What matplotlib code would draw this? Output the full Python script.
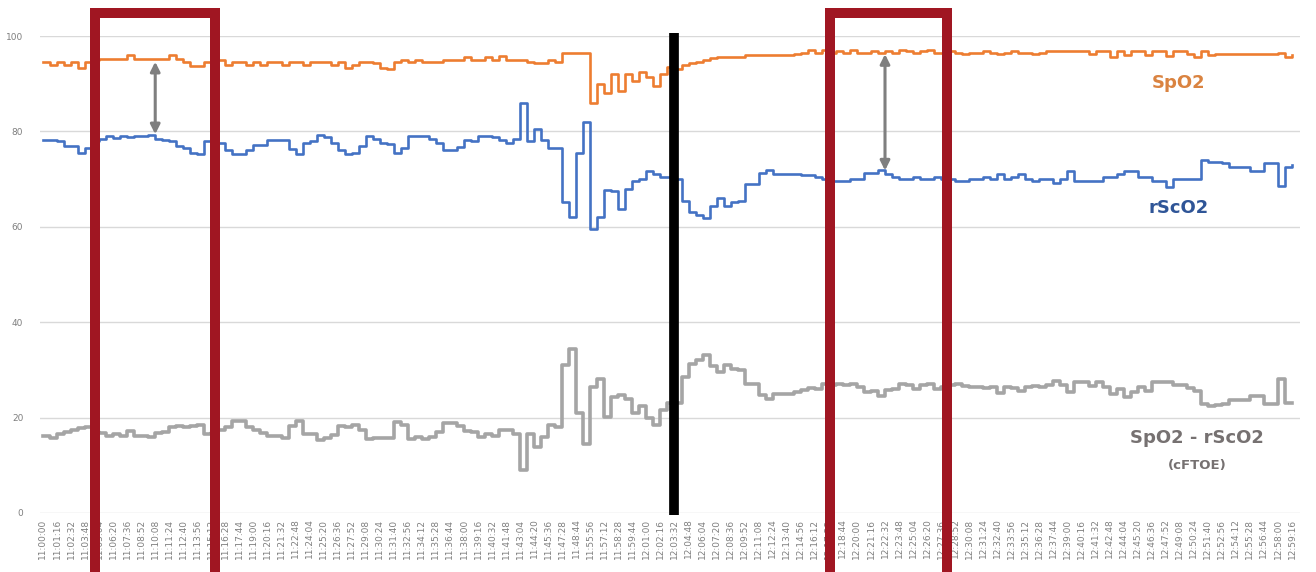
import matplotlib
matplotlib.use("Agg")
import matplotlib.pyplot as plt
import numpy as np
from matplotlib.patches import Rectangle

# time labels on the category axis (one every 19 samples)
time_labels = [
    "11:00:00", "11:01:16", "11:02:32", "11:03:48", "11:05:04", "11:06:20", "11:07:36", "11:08:52",
    "11:10:08", "11:11:24", "11:12:40", "11:13:56", "11:15:12", "11:16:28", "11:17:44", "11:19:00",
    "11:20:16", "11:21:32", "11:22:48", "11:24:04", "11:25:20", "11:26:36", "11:27:52", "11:29:08",
    "11:30:24", "11:31:40", "11:32:56", "11:34:12", "11:35:28", "11:36:44", "11:38:00", "11:39:16",
    "11:40:32", "11:41:48", "11:43:04", "11:44:20", "11:45:36", "11:47:28", "11:48:44", "11:55:56",
    "11:57:12", "11:58:28", "11:59:44", "12:01:00", "12:02:16", "12:03:32", "12:04:48", "12:06:04",
    "12:07:20", "12:08:36", "12:09:52", "12:11:08", "12:12:24", "12:13:40", "12:14:56", "12:16:12",
    "12:17:28", "12:18:44", "12:20:00", "12:21:16", "12:22:32", "12:23:48", "12:25:04", "12:26:20",
    "12:27:36", "12:28:52", "12:30:08", "12:31:24", "12:32:40", "12:33:56", "12:35:12", "12:36:28",
    "12:37:44", "12:39:00", "12:40:16", "12:41:32", "12:42:48", "12:44:04", "12:45:20", "12:46:36",
    "12:47:52", "12:49:08", "12:50:24", "12:51:40", "12:52:56", "12:54:12", "12:55:28", "12:56:44",
    "12:58:00", "12:59:16",
]

# readings, two per label interval
spo2 = [
    94.5, 94, 94.5, 94, 94.5, 93.3, 94.5, 95, 95.2, 95.2,
    95.2, 95.2, 96, 95.2, 95.2, 95.2, 95.2, 95.2, 96, 95.2,
    94.5, 93.8, 93.8, 94.5, 94.5, 95, 94, 94.5, 94.5, 94,
    94.5, 94, 94.5, 94.5, 94, 94.5, 94.5, 94, 94.5, 94.5,
    94.5, 94, 94.5, 93.3, 94, 94.5, 94.5, 94.3, 93.3, 93,
    94.5, 95, 94.5, 95, 94.5, 94.5, 94.5, 95, 95, 95,
    95.5, 95, 95, 95.5, 95, 95.8, 95, 95, 95, 94.5,
    94.3, 94.3, 95, 94.5, 96.4, 96.4, 96.4, 96.4, 86, 90,
    88, 92, 88.5, 92, 90.5, 92.5, 91.5, 89.5, 92, 93.5,
    93, 94, 94.3, 94.5, 95, 95.3, 95.5, 95.5, 95.5, 95.5,
    96, 96, 96, 96, 96, 96, 96, 96.3, 96.5, 97,
    96.5, 97, 96.5, 96.8, 96.5, 97, 96.5, 96.5, 96.8, 96.5,
    96.8, 96.5, 97, 96.8, 96.5, 96.8, 97, 96.5, 96.5, 96.8,
    96.5, 96.2, 96.5, 96.5, 96.8, 96.5, 96.2, 96.5, 96.8, 96.5,
    96.5, 96.2, 96.5, 96.8, 96.9, 96.9, 96.9, 96.9, 96.9, 96.2,
    96.9, 96.9, 95.5, 96.9, 96, 96.9, 96.9, 96, 96.9, 96.9,
    95.8, 96.9, 96.9, 96.2, 95.5, 96.9, 96, 96.2, 96.2, 96.2,
    96.2, 96.2, 96.2, 96.2, 96.2, 96.2, 96.5, 95.5, 96,
]
rsco2 = [
    78.3, 78.3, 78, 77, 77, 75.5, 76.5, 78, 78.5, 79,
    78.7, 79, 78.8, 79, 79, 79.2, 78.5, 78.3, 78, 77,
    76.5, 75.5, 75.3, 78, 77.8, 77.5, 76, 75.3, 75.3, 76,
    77.2, 77.2, 78.3, 78.3, 78.3, 76.3, 75.2, 77.5, 78, 79.2,
    78.8, 77.6, 76.2, 75.3, 75.5, 77, 79, 78.5, 77.6, 77.3,
    75.5, 76.5, 79, 79, 79, 78.5, 77.6, 76.2, 76.2, 76.8,
    78.3, 78, 79, 79, 78.8, 78.3, 77.5, 78.5, 86, 78,
    80.5, 78.3, 76.5, 76.5, 65.3, 62, 75.5, 82, 59.5, 62,
    67.8, 67.6, 63.7, 68, 69.5, 70, 71.6, 71, 70.5, 70.5,
    70, 65.5, 63, 62.5, 61.8, 64.4, 66, 64.4, 65.3, 65.5,
    68.9, 68.9, 71.3, 72, 71, 71, 71, 71, 70.8, 70.8,
    70.5, 70, 69.7, 69.7, 69.7, 70, 70, 71.2, 71.2, 72,
    71, 70.5, 70, 70, 70.5, 70, 70, 70.5, 70, 70,
    69.5, 69.5, 70, 70, 70.5, 70, 71, 70, 70.5, 71,
    70, 69.5, 70, 70, 69.2, 70, 71.6, 69.5, 69.5, 69.5,
    69.5, 70.5, 70.5, 71, 71.6, 71.6, 70.5, 70.5, 69.5, 69.5,
    68.3, 70, 70, 70, 70, 74, 73.6, 73.6, 73.3, 72.5,
    72.5, 72.5, 71.7, 71.7, 73.3, 73.3, 68.5, 72.5, 73,
]
cftoe = np.array(spo2) - np.array(rsco2)

y_ticks = [0, 20, 40, 60, 80, 100]

C_SPO2 = "#ED7D31"
C_RSCO2 = "#4472C4"
C_DIFF = "#A5A5A5"
C_RED = "#A01622"

W, H = 1316, 572
fig = plt.figure(figsize=(W / 100, H / 100), dpi=100)
ax = fig.add_axes([40 / W, 1 - 513 / H, 1260 / W, 477 / H])

x = np.arange(len(spo2)) * 0.5
ax.plot(x, spo2, color=C_SPO2, lw=1.9, drawstyle="steps-post", zorder=3)
ax.plot(x, rsco2, color=C_RSCO2, lw=1.9, drawstyle="steps-post", zorder=3)
ax.plot(x, cftoe, color=C_DIFF, lw=2.6, drawstyle="steps-post", zorder=3)

ax.set_xlim(-0.21, 89.57)
ax.set_ylim(0, 100)
ax.set_xticks(range(len(time_labels)))
ax.set_xticklabels(time_labels, rotation=90, fontsize=6.5, color="#7f7f7f")
ax.set_yticks(y_ticks)
ax.set_yticklabels([str(v) for v in y_ticks], fontsize=6.5, color="#7f7f7f")
ax.tick_params(length=0, pad=4)
ax.tick_params(axis="y", pad=12)
ax.grid(axis="y", color="#d9d9d9", lw=1)
ax.set_axisbelow(True)
for s in ax.spines.values():
    s.set_visible(False)

# vertical black marker at 12:03:32
ax.plot([45, 45], [-0.4, 100.6], color="black", lw=7, clip_on=False, zorder=5,
        solid_capstyle="butt")

# gap arrows between SpO2 and rScO2
for xa, y_top, y_bot in [(8.0, 94.6, 79.4), (60.0, 96.2, 71.8)]:
    ax.annotate("", xy=(xa, y_bot), xytext=(xa, y_top),
                arrowprops=dict(arrowstyle="<|-|>", color="#7f7f7f", lw=2.2,
                                mutation_scale=14, shrinkA=0, shrinkB=0),
                zorder=6)

# red highlight boxes (figure pixels)
for x0, x1 in [(95, 215), (830, 947)]:
    fig.add_artist(Rectangle((x0 / W, 1 - 575 / H), (x1 - x0) / W, 562 / H,
                             transform=fig.transFigure, fill=False,
                             edgecolor=C_RED, lw=7.2, zorder=10))

bold = dict(fontweight="bold", ha="center", va="center", family="DejaVu Sans")
fig.text(1179 / W, 1 - 83 / H, "SpO2", color="#DA8340", fontsize=13, **bold)
fig.text(1179 / W, 1 - 208 / H, "rScO2", color="#2F5597", fontsize=13, **bold)
fig.text(1197 / W, 1 - 438 / H, "SpO2 - rScO2", color="#767171", fontsize=13, **bold)
fig.text(1197 / W, 1 - 465 / H, "(cFTOE)", color="#767171", fontsize=9.5, **bold)

fig.savefig("out.png", dpi=100)
